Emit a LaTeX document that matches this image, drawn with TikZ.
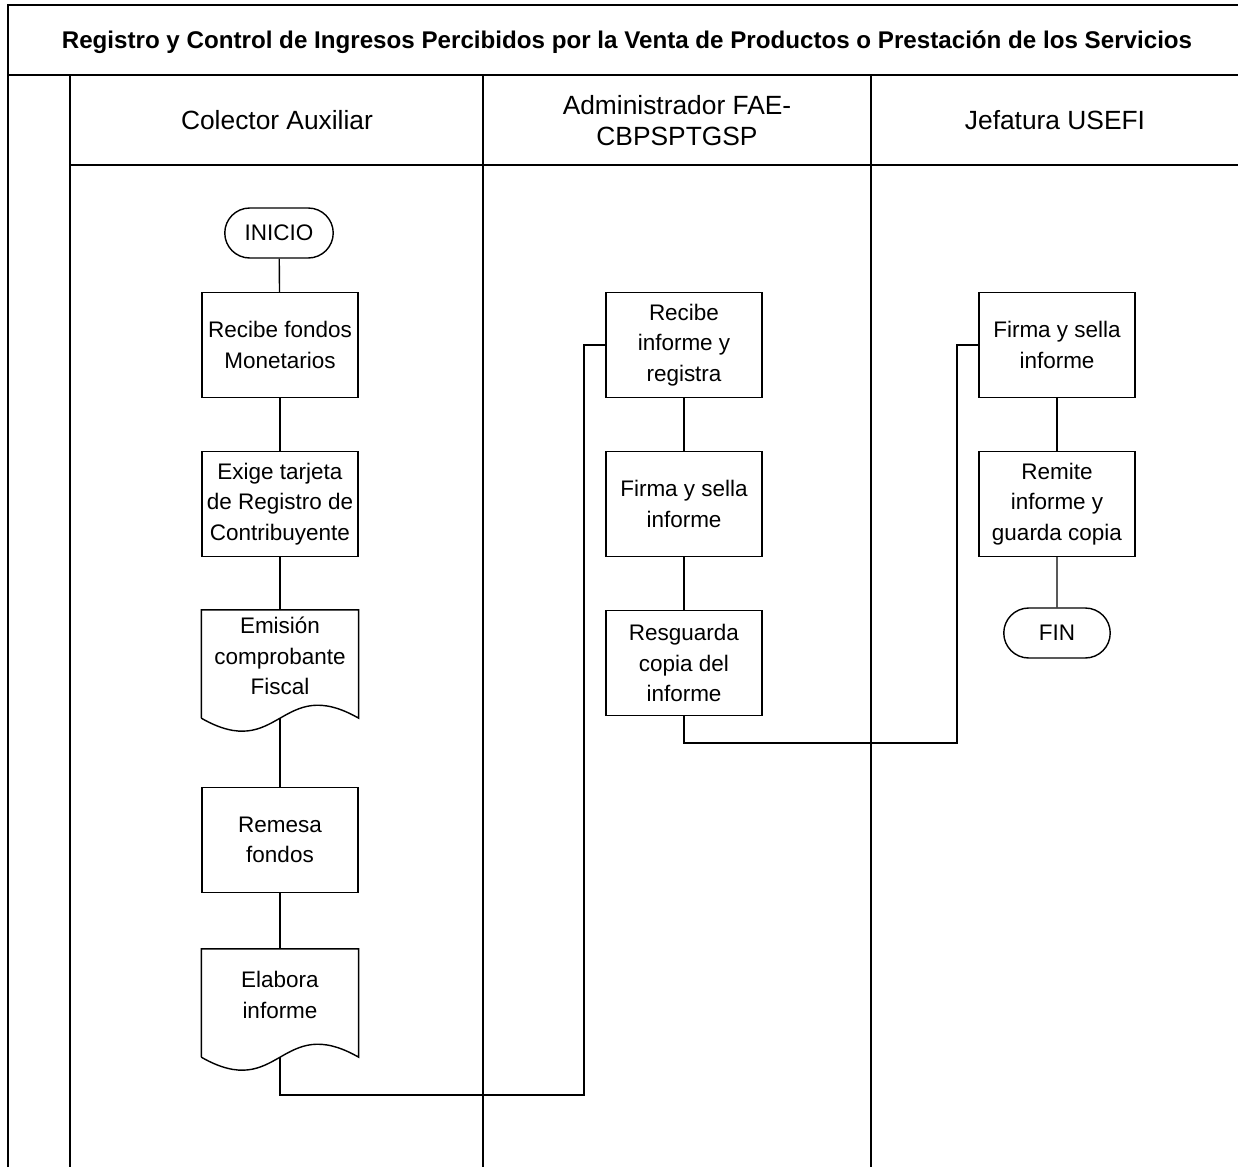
\documentclass[tikz,border=0pt]{standalone}
\usepackage{fontspec}
\setmainfont{Liberation Sans}
\usetikzlibrary{shapes.misc}

\tikzset{
	lane/.style={line width=0.8pt},
	link/.style={line width=0.8pt},
	head/.style={align=center, font=\fontsize{15}{17.6}\selectfont},
	proc/.style={draw, line width=0.8pt, minimum width=3.12cm, minimum height=2.1cm, inner sep=1pt, align=center, font=\fontsize{12.8}{17.3}\selectfont},
	docbox/.style={proc, draw=none, minimum height=1.82cm},
	term/.style={draw, line width=0.8pt, rounded rectangle, minimum width=2.24cm, minimum height=1cm, inner sep=1pt, font=\fontsize{12.8}{17.3}\selectfont},
}

\newcommand{\docwave}[1]{%
	\draw[link] ([yshift=-0.32cm]#1.south west) -- (#1.north west) -- (#1.north east) -- ([yshift=-0.32cm]#1.south east)
		.. controls ([yshift=0.58cm]#1.south) and ([yshift=-1.22cm]#1.south) .. ([yshift=-0.32cm]#1.south west);
	\coordinate (#1-w) at ([yshift=-0.32cm]#1.south);}

\begin{document}
\begin{tikzpicture}[x=0.02cm, y=-0.02cm]
		\useasboundingbox (0,0) rectangle (1238,1167);
		\draw[lane] (8,1167) -- (8,5) -- (1238,5);
		\draw[lane] (8,75) -- (1238,75);
		\draw[lane] (70,165) -- (1238,165);
		\foreach \x in {70,483,871}
			\draw[lane] (\x,75) -- (\x,1167);

		\node[font=\fontsize{13.75}{16}\selectfont\bfseries] (title) at (627,42) {Registro y Control de Ingresos Percibidos por la Venta de Productos o Prestación de los Servicios};
		\node[head] (colector) at (277,120) {Colector Auxiliar};
		\node[head] (admin) at (677,121) {Administrador FAE-\\CBPSPTGSP};
		\node[head] (jefatura) at (1055,120) {Jefatura USEFI};

		\node[term] (inicio) at (279,233) {INICIO};
		\node[proc] (recibe) at (280,345) {Recibe fondos\\Monetarios};
		\node[proc] (exige) at (280,504) {Exige tarjeta\\de Registro de\\Contribuyente};
		\node[docbox] (emision) at (280,656) {Emisión\\comprobante\\Fiscal};
		\node[proc] (remesa) at (280,840) {Remesa\\fondos};
		\node[docbox] (elabora) at (280,995) {Elabora\\informe};
		\docwave{emision}
		\docwave{elabora}

		\node[proc] (recibeinf) at (684,345) {Recibe\\informe y\\registra};
		\node[proc] (firmaadm) at (684,504) {Firma y sella\\informe};
		\node[proc] (resguarda) at (684,663) {Resguarda\\copia del\\informe};

		\node[proc] (firmajef) at (1057,345) {Firma y sella\\informe};
		\node[proc] (remite) at (1057,504) {Remite\\informe y\\guarda copia};
		\node[term, minimum width=2.2cm] (fin) at (1057,633) {FIN};

		\coordinate (c1) at (584,1095);
		\coordinate (c2) at (957,743);

		\draw[link] (inicio) -- (recibe);
		\draw[link] (recibe) -- (exige);
		\draw[link] (exige) -- (emision.north);
		\draw[link] (emision-w) -- (remesa);
		\draw[link] (remesa) -- (elabora.north);
		\draw[link] (elabora-w) |- (c1) |- (recibeinf.west);
		\draw[link] (recibeinf) -- (firmaadm);
		\draw[link] (firmaadm) -- (resguarda);
		\draw[link] (resguarda) |- (c2) |- (firmajef.west);
		\draw[link] (firmajef) -- (remite);
		\draw[link] (remite) -- (fin);
\end{tikzpicture}
\end{document}
